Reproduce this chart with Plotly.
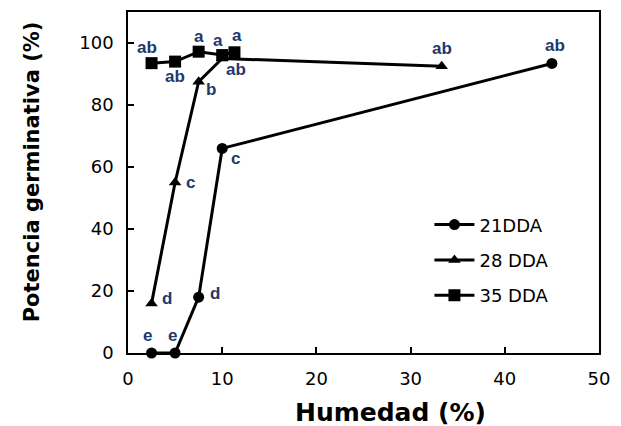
import plotly.graph_objects as go

humedad_21 = [2.5, 5, 7.5, 10, 45]
potencia_21 = [0, 0, 18, 66, 93.4]
letras_21 = ["e", "e", "d", "c", "ab"]

humedad_28 = [2.5, 5, 7.5, 10, 33.3]
potencia_28 = [16, 55, 87.5, 95, 92.5]
letras_28 = ["d", "c", "b", "ab", "ab"]

humedad_35 = [2.5, 5, 7.5, 10, 11.3]
potencia_35 = [93.5, 94, 97.2, 96.1, 97]
letras_35 = ["ab", "ab", "a", "a", "a"]

series_names = ["21DDA", "28 DDA", "35 DDA"]
x_ticks = [0, 10, 20, 30, 40, 50]
y_ticks = [0, 20, 40, 60, 80, 100]

# label offsets (px) per point: style only
off_21 = [(-4, 18), (-3, 18), (16, 4), (13, -10), (3, 18)]
off_28 = [(15, 5), (15, 0), (12, -8), (14, -11), (0, 18)]
off_35 = [(-5, 16), (0, -15), (0, 15), (-4, 15), (3, 17)]

fig = go.Figure()
specs = [
    (humedad_21, potencia_21, series_names[0], "circle", 11),
    (humedad_28, potencia_28, series_names[1], "triangle-up", 11),
    (humedad_35, potencia_35, series_names[2], "square", 12),
]
for i, (x, y, name, sym, sz) in enumerate(specs):
    fig.add_trace(go.Scatter(
        x=x, y=y, name=name, mode="lines+markers", legendgroup=f"g{i}",
        line=dict(color="black", width=3),
        marker=dict(symbol=sym, size=sz, color="black"),
        cliponaxis=False,
    ))

lab_color = "#22386b"
for xs, ys, labs, offs in [
    (humedad_21, potencia_21, letras_21, off_21),
    (humedad_28, potencia_28, letras_28, off_28),
    (humedad_35, potencia_35, letras_35, off_35),
]:
    for x, y, t, (dx, dy) in zip(xs, ys, labs, offs):
        fig.add_annotation(x=x, y=y, text=t, showarrow=False,
                           xshift=dx, yshift=dy,
                           font=dict(family="Arial, Liberation Sans", size=17,
                                     color=lab_color, weight="bold"))

# axis titles
fig.add_annotation(text="Humedad (%)", xref="paper", yref="paper",
                   x=0.557, y=0, yshift=-59, xanchor="center", yanchor="middle",
                   showarrow=False,
                   font=dict(family="DejaVu Sans", size=25, color="black", weight="bold"))
fig.add_annotation(text="Potencia germinativa (%)", xref="paper", yref="paper",
                   x=0, xshift=-96, y=0.53, xanchor="center", yanchor="middle",
                   textangle=-90, showarrow=False,
                   font=dict(family="DejaVu Sans", size=21, color="black", weight="bold"))

axis_common = dict(
    showline=True, linecolor="black", linewidth=1.5, mirror=True,
    ticks="inside", ticklen=6, tickcolor="black", tickwidth=1.5,
    showgrid=False, zeroline=False, automargin=False,
    ticklabelstandoff=9,
    tickfont=dict(family="DejaVu Sans", size=18, color="black"),
)
fig.update_xaxes(range=[0, 50], tickvals=x_ticks, **axis_common)
fig.update_yaxes(range=[0, 110], tickvals=y_ticks, **axis_common)

# page body adds an 8px margin, so the figure is 8px smaller and shifted
fig.update_layout(
    width=613, height=418,
    margin=dict(l=120, r=22, t=4, b=73),
    paper_bgcolor="white", plot_bgcolor="white",
    showlegend=True,
    legend=dict(x=0.64, y=0.43, xanchor="left", yanchor="top",
                bgcolor="rgba(0,0,0,0)", itemwidth=40, tracegroupgap=9,
                traceorder="grouped",
                font=dict(family="DejaVu Sans", size=18, color="black")),
)

fig.write_html("out.html")
